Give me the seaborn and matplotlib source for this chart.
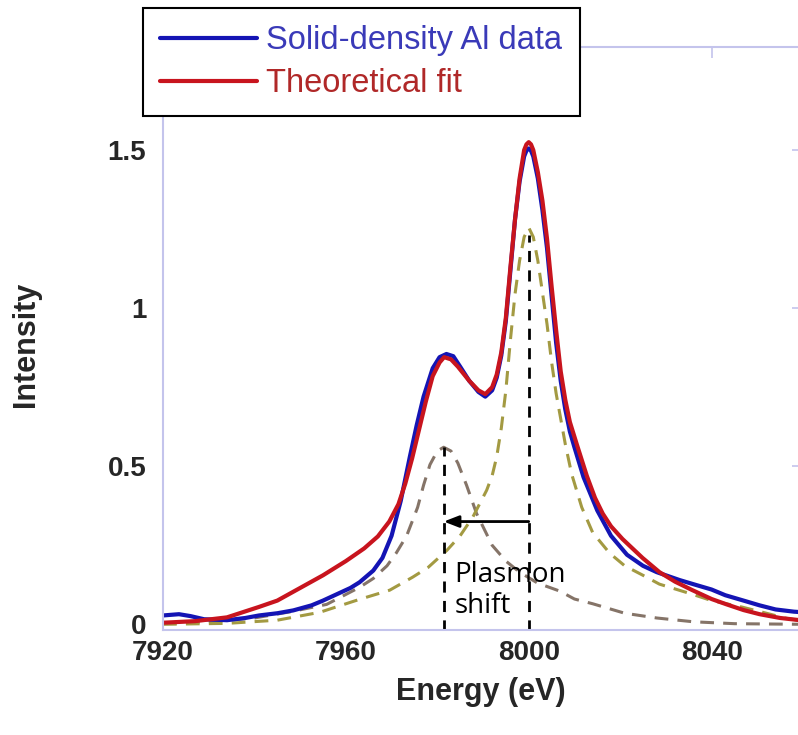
import numpy as np
import pandas as pd
import matplotlib
matplotlib.use("Agg")
import matplotlib.pyplot as plt
import seaborn as sns

# valores
e_fit = [7920, 7927, 7934, 7941, 7945, 7950, 7955, 7960, 7964, 7967, 7969.5, 7971.5,
         7973, 7974.5, 7976, 7977.5, 7979, 7980.5, 7981.5, 7983, 7984.5, 7987, 7989,
         7990.5, 7992, 7993, 7994, 7995, 7996, 7997, 7998, 7999, 7999.5, 8000, 8000.5,
         8001, 8002, 8003, 8004, 8005, 8006, 8007, 8008, 8009, 8010.5, 8012.7, 8014.5,
         8016.2, 8018, 8020.5, 8024.9, 8028.6, 8032, 8035.8, 8040, 8043.3, 8047, 8050.5,
         8055, 8060]
i_fit = [0.005, 0.01, 0.022, 0.055, 0.075, 0.115, 0.155, 0.20, 0.24, 0.278, 0.325, 0.38,
         0.445, 0.525, 0.615, 0.705, 0.785, 0.828, 0.845, 0.838, 0.815, 0.77, 0.74,
         0.728, 0.75, 0.79, 0.86, 0.97, 1.13, 1.28, 1.41, 1.50, 1.518, 1.525, 1.518,
         1.50, 1.43, 1.34, 1.22, 1.07, 0.93, 0.80, 0.71, 0.64, 0.57, 0.47, 0.40,
         0.35, 0.31, 0.27, 0.21, 0.165, 0.135, 0.108, 0.08, 0.063, 0.045, 0.032,
         0.02, 0.012]

e_data = [7920, 7923.5, 7926, 7929, 7934, 7938, 7941, 7945, 7948.5, 7952.5, 7955, 7958,
          7961, 7963, 7966, 7968, 7970, 7972, 7974, 7975.5, 7977, 7979, 7980.5, 7982,
          7983.5, 7985, 7987, 7989, 7990.5, 7992, 7993, 7994, 7995, 7996, 7997, 7998,
          7999, 7999.5, 8000, 8000.5, 8001, 8002, 8003, 8004, 8005, 8006, 8007, 8008,
          8009, 8010, 8012, 8015, 8018, 8021.5, 8025, 8028, 8030, 8033, 8036, 8040,
          8043, 8047, 8050.5, 8054, 8058, 8060]
i_data = [0.028, 0.032, 0.026, 0.016, 0.013, 0.02, 0.028, 0.035, 0.044, 0.06, 0.075, 0.095,
          0.115, 0.133, 0.17, 0.21, 0.28, 0.39, 0.53, 0.63, 0.72, 0.81, 0.845, 0.855,
          0.848, 0.815, 0.77, 0.735, 0.72, 0.74, 0.78, 0.85, 0.96, 1.12, 1.28, 1.40,
          1.48, 1.498, 1.505, 1.498, 1.48, 1.41, 1.31, 1.19, 1.04, 0.89, 0.77, 0.68,
          0.61, 0.56, 0.465, 0.36, 0.28, 0.22, 0.185, 0.165, 0.155, 0.14, 0.127, 0.11,
          0.092, 0.075, 0.06, 0.047, 0.04, 0.038]

e_plasmon = [7920, 7930, 7940, 7948, 7955.8, 7963, 7966, 7969, 7971, 7973.3, 7975.7, 7977,
             7978.4, 7980, 7981.4, 7983, 7984.5, 7986.4, 7988.6, 7992, 7995, 7998, 8002,
             8006.8, 8010, 8014, 8021, 8028, 8036, 8045, 8060]
i_plasmon = [0.003, 0.008, 0.02, 0.04, 0.063, 0.117, 0.145, 0.185, 0.225, 0.28, 0.37, 0.44,
             0.505, 0.548, 0.56, 0.548, 0.51, 0.44, 0.35, 0.25, 0.20, 0.165, 0.13,
             0.105, 0.08, 0.065, 0.035, 0.02, 0.008, 0.002, 0.0]

e_elastic = [7920, 7934, 7945, 7954.3, 7963, 7969.6, 7974.6, 7978, 7982.1, 7985, 7987.8,
             7990.8, 7992, 7993, 7994, 7995, 7996, 7997, 7998, 7999, 8000, 8001,
             8002, 8003, 8004, 8005, 8006, 8007, 8008, 8009.4, 8011.6, 8014, 8017.7,
             8021, 8025, 8028.6, 8035.8, 8040, 8046.8, 8052, 8056, 8060]
i_elastic = [0.0, 0.003, 0.013, 0.038, 0.079, 0.108, 0.149, 0.18, 0.234, 0.28, 0.34,
             0.424, 0.47, 0.53, 0.62, 0.74, 0.90, 1.044, 1.15, 1.225, 1.255, 1.225,
             1.15, 1.05, 0.95, 0.83, 0.73, 0.65, 0.57, 0.475, 0.37, 0.29, 0.225,
             0.185, 0.155, 0.127, 0.095, 0.075, 0.054, 0.035, 0.02, 0.01]

pico_plasmon = 7981.4
pico_elastico = 8000
alto_plasmon = 0.56
alto_elastico = 1.23
y_flecha = 0.325

x_ticks = [7920, 7960, 8000, 8040]
y_ticks = [0, 0.5, 1, 1.5]
y_ticklabels = ["0", "0.5", "1", "1.5"]

sns.set_style("white")
plt.rcParams['font.family'] = ['Liberation Sans', 'DejaVu Sans']

fig = plt.figure(figsize=(7.98, 7.35), dpi=100)
ax = fig.add_axes([163 / 798, 105 / 735, 640 / 798, 583 / 735])

def linea(x, y, color, lw, dashes=None):
    df = pd.DataFrame({"x": x, "y": y})
    n = len(ax.lines)
    sns.lineplot(data=df, x="x", y="y", ax=ax, color=color, lw=lw,
                 estimator=None, sort=False)
    ln = ax.lines[n]
    ln.set_solid_joinstyle("round")
    ln.set_dash_joinstyle("round")
    if dashes:
        ln.set_dashes(dashes)
    return ln

linea(e_plasmon, i_plasmon, "#857468", 2.2, dashes=(4.5, 3))
linea(e_elastic, i_elastic, "#a39a42", 2.2, dashes=(4.5, 3))
l_data = linea(e_data, i_data, "#1414b4", 3.0)
l_fit = linea(e_fit, i_fit, "#c8141e", 3.0)

# lineas de los picos y flecha
ax.plot([pico_plasmon, pico_plasmon], [-0.02, alto_plasmon], color="black",
        lw=2, dashes=(4, 3))
ax.plot([pico_elastico, pico_elastico], [-0.02, alto_elastico], color="black",
        lw=2, dashes=(4, 3))
ax.annotate("", xy=(pico_plasmon, y_flecha), xytext=(pico_elastico, y_flecha),
            arrowprops=dict(arrowstyle="-|>,head_length=0.9,head_width=0.35",
                            color="black", lw=2, shrinkA=0, shrinkB=0))
ax.text(pico_plasmon + 2.3, 0.2, "Plasmon\nshift", fontsize=20,
        family=["Open Sans", "DejaVu Sans"], va="top", ha="left", linespacing=1.12,
        color="black")

ax.set_xlim(7920, 8060)
ax.set_ylim(-0.018, 1.826)
ax.set_xticks(x_ticks)
ax.set_yticks(y_ticks)
ax.set_yticklabels(y_ticklabels)

spine_col = "#c4c4ec"
for s in ax.spines.values():
    s.set_color(spine_col)
    s.set_linewidth(1.5)
    s.set_visible(True)
ax.tick_params(direction="in", length=8, width=1.2, color=spine_col,
               top=True, right=True, labelsize=20)
ax.tick_params(axis="x", pad=7)
ax.tick_params(axis="y", pad=12)
for t in ax.get_xticklabels() + ax.get_yticklabels():
    t.set_fontweight("bold")

ax.set_xlabel("Energy (eV)", fontsize=22, fontweight="bold")
ax.set_ylabel("Intensity", fontsize=22, fontweight="bold")
ax.xaxis.set_label_coords(0.5 * 635 / 640, -0.08)
ax.yaxis.set_label_coords(-0.19, 0.49)

leg = fig.legend([l_data, l_fit], ["Solid-density Al data", "Theoretical fit"],
                 loc="upper left", bbox_to_anchor=(143 / 798, 1 - 8 / 735),
                 fontsize=23.5, frameon=True, fancybox=False, framealpha=1,
                 edgecolor="black", handlelength=2.95, handletextpad=0.3,
                 borderpad=0.53, labelspacing=0.36, borderaxespad=0)
leg.get_frame().set_linewidth(1.5)
for txt, c in zip(leg.get_texts(), ["#3a3ab8", "#b02828"]):
    txt.set_color(c)

fig.savefig("out.png", dpi=100)
